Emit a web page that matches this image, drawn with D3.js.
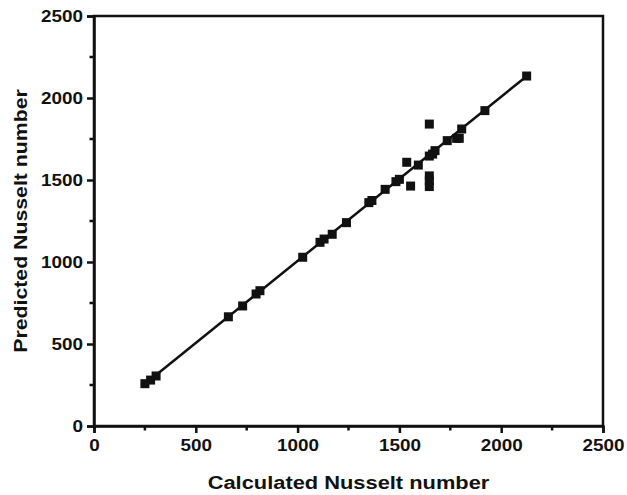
<!DOCTYPE html>
<html>
<head>
<meta charset="utf-8">
<script src="https://cdn.jsdelivr.net/npm/d3@7"></script>
<style>
  body { margin: 0; background: #fff; }
  svg text { font-family: "Liberation Sans", Arial, sans-serif; font-weight: bold; fill: #111; }
</style>
</head>
<body>
<svg id="chart" width="627" height="495"></svg>
<script>
// calculated vs predicted Nusselt number
const calculated = [250, 278, 305, 660, 730, 796, 815, 1025, 1110, 1130, 1170, 1240,
  1350, 1365, 1430, 1483, 1500, 1536, 1555, 1593, 1647, 1647, 1647, 1647, 1647,
  1663, 1675, 1735, 1781, 1794, 1806, 1920, 2125];
const predicted = [258, 280, 305, 666, 732, 805, 825, 1029, 1120, 1140, 1169, 1240,
  1362, 1375, 1443, 1490, 1504, 1608, 1463, 1591, 1525, 1495, 1460, 1646, 1841,
  1658, 1679, 1740, 1754, 1754, 1811, 1923, 2134];
const fitX = [250, 2125];
const fitY = [256, 2133];
const ticks = [0, 500, 1000, 1500, 2000, 2500];
const minorTicks = [250, 750, 1250, 1750, 2250];

const svg = d3.select('#chart');
const margin = { top: 16, right: 24, bottom: 69, left: 94 };
const width = 627 - margin.left - margin.right;
const height = 495 - margin.top - margin.bottom;

const g = svg.append('g')
  .attr('transform', 'translate(' + margin.left + ',' + margin.top + ')');

const x = d3.scaleLinear().domain([0, 2500]).range([0, width]);
const y = d3.scaleLinear().domain([0, 2500]).range([height, 0]);
const fmt = d3.format('d');

// frame
g.append('rect')
  .attr('width', width)
  .attr('height', height)
  .attr('fill', 'none')
  .attr('stroke', '#111')
  .attr('stroke-width', 2.5);

// labels through d3 axes, tick marks drawn below
g.append('g')
  .attr('transform', 'translate(0,' + height + ')')
  .call(d3.axisBottom(x).tickValues(ticks).tickFormat(fmt).tickSize(7).tickPadding(7));
g.append('g')
  .call(d3.axisLeft(y).tickValues(ticks).tickFormat(fmt).tickSize(7).tickPadding(2.3));

g.selectAll('.domain').style('stroke', '#111').style('stroke-width', '2.5px');
g.selectAll('.tick line').style('stroke', '#111').style('stroke-width', '2.5px');
g.selectAll('.tick text')
  .attr('transform', 'scale(1.18,1)')
  .style('font-size', '16px')
  .style('font-family', '"Liberation Sans", Arial, sans-serif')
  .style('font-weight', 'bold')
  .attr('fill', '#111');

const tickMarks = g.append('g').attr('stroke', '#111').attr('stroke-width', 2.5);
tickMarks.selectAll('.xt')
  .data(minorTicks)
  .enter().append('line')
  .attr('x1', d => x(d)).attr('x2', d => x(d))
  .attr('y1', height).attr('y2', height + 4.5);
tickMarks.selectAll('.yt')
  .data(minorTicks)
  .enter().append('line')
  .attr('y1', d => y(d)).attr('y2', d => y(d))
  .attr('x1', 0).attr('x2', -4.5);

// fit line
g.append('line')
  .attr('x1', x(fitX[0])).attr('y1', y(fitY[0]))
  .attr('x2', x(fitX[1])).attr('y2', y(fitY[1]))
  .attr('stroke', '#111')
  .attr('stroke-width', 2.5);

// points
const size = 9;
g.selectAll('.pt')
  .data(calculated)
  .enter().append('rect')
  .attr('class', 'pt')
  .attr('x', d => x(d) - size / 2)
  .attr('y', (d, i) => y(predicted[i]) - size / 2)
  .attr('width', size)
  .attr('height', size)
  .attr('fill', '#111');

// axis titles
svg.append('text')
  .attr('transform', 'translate(' + (margin.left + width / 2) + ',489) scale(1.15,1)')
  .attr('text-anchor', 'middle')
  .style('font-size', '19px')
  .text('Calculated Nusselt number');

svg.append('text')
  .attr('transform', 'translate(27,' + (margin.top + height / 2) + ') rotate(-90) scale(1.12,1)')
  .attr('text-anchor', 'middle')
  .style('font-size', '19px')
  .text('Predicted Nusselt number');
</script>
</body>
</html>
